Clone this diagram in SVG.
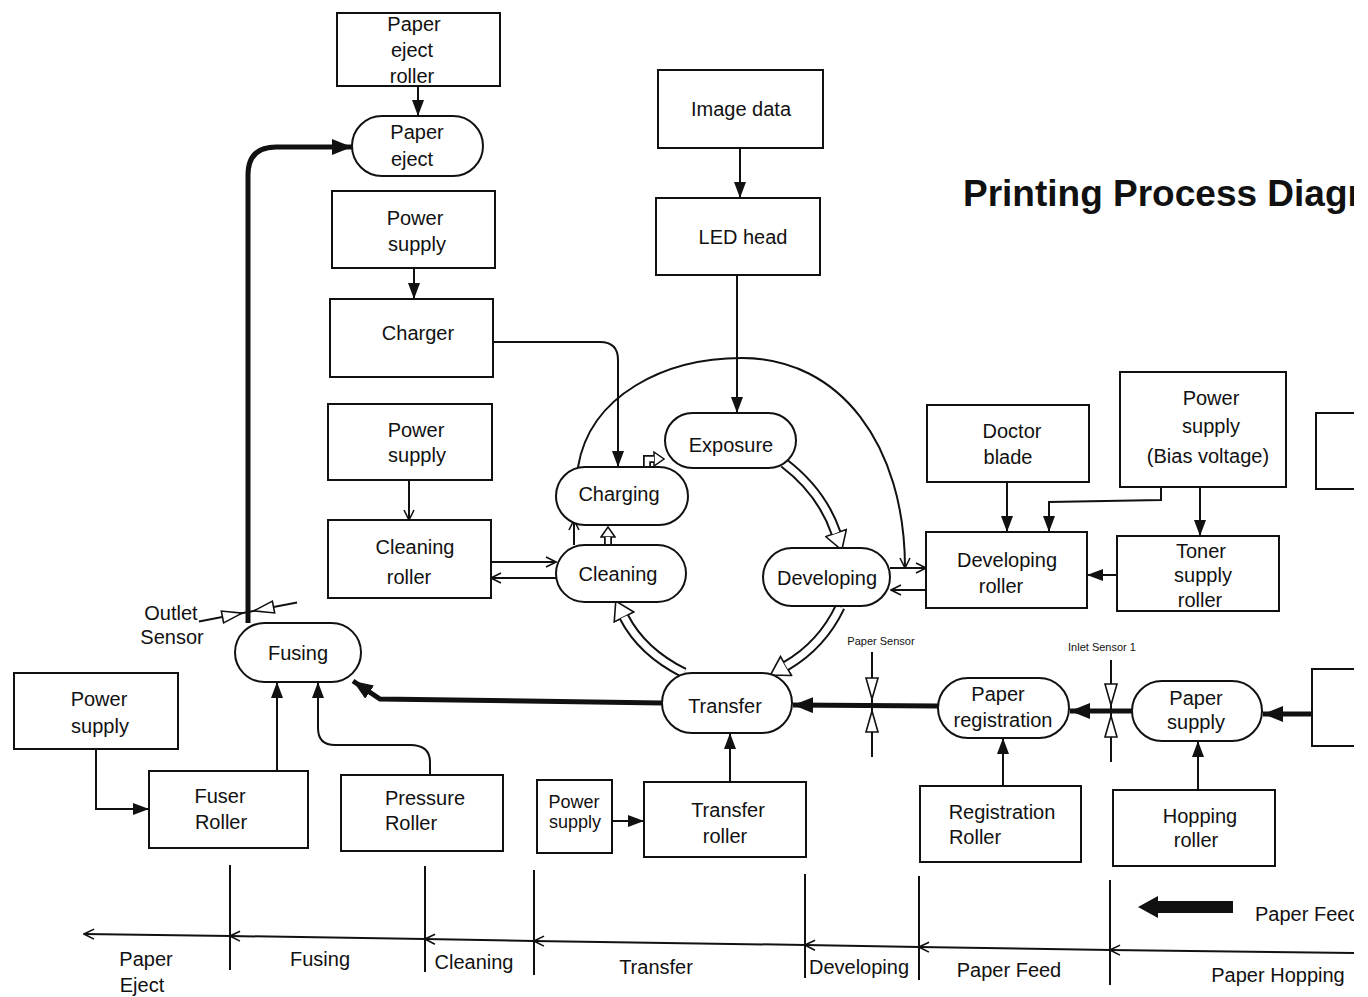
<svg xmlns="http://www.w3.org/2000/svg" width="1368" height="997" viewBox="0 0 1368 997">
<style>
.b{fill:#fff;stroke:#111;stroke-width:2}
.t{font-family:"Liberation Sans",Arial,sans-serif;font-size:20px;fill:#111;text-anchor:middle}
.ts{font-family:"Liberation Sans",Arial,sans-serif;font-size:18px;fill:#111;text-anchor:middle}
.s{font-family:"Liberation Sans",Arial,sans-serif;font-size:11px;fill:#111;text-anchor:middle}
.l{fill:none;stroke:#111;stroke-width:2}
.k{fill:none;stroke:#111;stroke-width:5}
.hb{fill:none;stroke:#111;stroke-width:11}
.hw{fill:none;stroke:#fff;stroke-width:7}
.sb{fill:none;stroke:#111;stroke-width:8}
.sw{fill:none;stroke:#fff;stroke-width:4.5}
.ht{fill:#fff;stroke:#111;stroke-width:1.6}
</style>
<defs>
<marker id="fa" viewBox="0 0 16 12" refX="16" refY="6" markerWidth="16" markerHeight="12" markerUnits="userSpaceOnUse" orient="auto"><path d="M0,0 L16,6 L0,12 z" fill="#111"/></marker>
<marker id="fb" viewBox="0 0 20 16" refX="20" refY="8" markerWidth="20" markerHeight="16" markerUnits="userSpaceOnUse" orient="auto"><path d="M0,0 L20,8 L0,16 z" fill="#111"/></marker>
<marker id="oa" viewBox="0 0 12 12" refX="11" refY="6" markerWidth="12" markerHeight="12" markerUnits="userSpaceOnUse" orient="auto"><path d="M1,1 L11,6 L1,11" fill="none" stroke="#111" stroke-width="1.6"/></marker>
<marker id="hh" viewBox="0 0 20 24" refX="1" refY="12" markerWidth="20" markerHeight="24" markerUnits="userSpaceOnUse" orient="auto"><path d="M1,1 L19,12 L1,23 z" fill="#fff" stroke="#111" stroke-width="1.6"/></marker>
<marker id="hs" viewBox="0 0 12 16" refX="1" refY="8" markerWidth="12" markerHeight="16" markerUnits="userSpaceOnUse" orient="auto"><path d="M1,1 L11,8 L1,15 z" fill="#fff" stroke="#111" stroke-width="1.5"/></marker>
<clipPath id="cp"><rect x="0" y="0" width="1354" height="997"/></clipPath>
</defs>
<rect width="1368" height="997" fill="#fff"/>
<g clip-path="url(#cp)">
<g id="connectors">
<path class="k" d="M248 623 L248 175 Q248 147 276 147 L352 147" marker-end="url(#fb)"/>
<path class="k" d="M662 703 L380 699 L353 681" marker-end="url(#fb)"/>
<path class="k" d="M938 706 L793 705" marker-end="url(#fb)"/>
<path class="k" d="M1132 711 L1070 711" marker-end="url(#fb)"/>
<path class="k" d="M1312 714 L1263 714" marker-end="url(#fb)"/>
<path class="l" d="M418 86 L418 116" marker-end="url(#fa)"/>
<path class="l" d="M414 268 L414 299" marker-end="url(#fa)"/>
<path class="l" d="M493 342 L600 342 Q618 342 618 360 L618 467" marker-end="url(#fa)"/>
<path class="l" d="M740 148 L740 198" marker-end="url(#fa)"/>
<path class="l" d="M737 275 L737 413" marker-end="url(#fa)"/>
<path class="l" d="M409 480 L409 520" marker-end="url(#oa)"/>
<path class="l" d="M491 562 L556 562" marker-end="url(#oa)"/>
<path class="l" d="M556 578 L491 578" marker-end="url(#oa)"/>
<path class="l" d="M574 545 L574 520" marker-end="url(#oa)"/>
<path class="l" d="M578 467 C590 395 665 358 742 358 C840 358 905 445 905 568" marker-end="url(#oa)"/>
<path class="l" d="M890 568 L926 568" marker-end="url(#oa)"/>
<path class="l" d="M926 590 L891 590" marker-end="url(#oa)"/>
<path class="l" d="M1007 482 L1007 532" marker-end="url(#fa)"/>
<path class="l" d="M1161 487 L1161 500 L1049 502 L1049 532" marker-end="url(#fa)"/>
<path class="l" d="M1200 487 L1200 536" marker-end="url(#fa)"/>
<path class="l" d="M1117 575 L1087 575" marker-end="url(#fa)"/>
<path class="l" d="M277 771 L277 682" marker-end="url(#fa)"/>
<path class="l" d="M430 775 L430 762 Q430 745 410 745 L335 745 Q318 745 318 728 L318 682" marker-end="url(#fa)"/>
<path class="l" d="M96 749 L96 809 L149 809" marker-end="url(#fa)"/>
<path class="l" d="M730 782 L730 733" marker-end="url(#fa)"/>
<path class="l" d="M612 821 L644 821" marker-end="url(#fa)"/>
<path class="l" d="M1003 786 L1003 738" marker-end="url(#fa)"/>
<path class="l" d="M1198 790 L1198 741" marker-end="url(#fa)"/>
<path class="hb" d="M784 463 Q822 492 836 533" marker-end="url(#hh)"/>
<path class="hw" d="M784 463 Q822 492 836 533"/>
<path class="hb" d="M840 607 Q822 645 786 666" marker-end="url(#hh)"/>
<path class="hw" d="M840 607 Q822 645 786 666"/>
<path class="hb" d="M684 673 Q642 652 624 617" marker-end="url(#hh)"/>
<path class="hw" d="M684 673 Q642 652 624 617"/>
<path class="sb" d="M608 545 L608 537" marker-end="url(#hs)"/>
<path class="sw" d="M608 546 L608 537"/>
<path class="sb" d="M647 468 L647 459 L654 459" marker-end="url(#hs)"/>
<path class="sw" d="M647 469 L647 459 L654 459"/>
<path class="l" d="M872 652 L872 757"/>
<polygon class="ht" points="866,678 878,678 872,699"/>
<polygon class="ht" points="866,732 878,732 872,711"/>
<path class="l" d="M1111 660 L1111 762"/>
<polygon class="ht" points="1105,684 1117,684 1111,705"/>
<polygon class="ht" points="1105,737 1117,737 1111,716"/>
<g transform="rotate(-11 248 612)">
<path class="l" d="M198 612 L298 612"/>
<polygon class="ht" points="222,606 222,618 242,612"/>
<polygon class="ht" points="274,606 274,618 254,612"/>
</g>
<path class="l" d="M230 865 L230 970 M425 866 L425 972 M534 870 L534 975 M805 874 L805 978 M919 876 L919 980 M1110 880 L1110 985"/>
<path class="l" d="M1360 953 L1110 950" marker-end="url(#oa)"/>
<path class="l" d="M1110 950 L919 947" marker-end="url(#oa)"/>
<path class="l" d="M919 947 L805 945" marker-end="url(#oa)"/>
<path class="l" d="M805 945 L534 941" marker-end="url(#oa)"/>
<path class="l" d="M534 941 L425 939" marker-end="url(#oa)"/>
<path class="l" d="M425 939 L230 936" marker-end="url(#oa)"/>
<path class="l" d="M230 936 L84 934" marker-end="url(#oa)"/>
<polygon points="1138,907 1158,896 1158,901 1233,901 1233,913 1158,913 1158,918" fill="#111"/>
</g>
<g id="n-paper-eject-roller"><rect class="b" x="337" y="13" width="163" height="73"/><text class="t" x="414" y="31">Paper</text><text class="t" x="412" y="57">eject</text><text class="t" x="412" y="83">roller</text></g>
<g id="n-paper-eject"><rect class="b" x="352" y="116" width="131" height="60" rx="30"/><text class="t" x="417" y="139">Paper</text><text class="t" x="412" y="166">eject</text></g>
<g id="n-power1"><rect class="b" x="332" y="191" width="163" height="77"/><text class="t" x="415" y="225">Power</text><text class="t" x="417" y="251">supply</text></g>
<g id="n-charger"><rect class="b" x="330" y="299" width="163" height="78"/><text class="t" x="418" y="340">Charger</text></g>
<g id="n-power2"><rect class="b" x="328" y="404" width="164" height="76"/><text class="t" x="416" y="437">Power</text><text class="t" x="417" y="462">supply</text></g>
<g id="n-cleaning-roller"><rect class="b" x="328" y="520" width="163" height="78"/><text class="t" x="415" y="554">Cleaning</text><text class="t" x="409" y="584">roller</text></g>
<g id="n-image-data"><rect class="b" x="658" y="70" width="165" height="78"/><text class="t" x="741" y="116">Image data</text></g>
<g id="n-led-head"><rect class="b" x="656" y="198" width="164" height="77"/><text class="t" x="743" y="244">LED head</text></g>
<g id="n-exposure"><rect class="b" x="665" y="413" width="131" height="55" rx="27.5"/><text class="t" x="731" y="452">Exposure</text></g>
<g id="n-charging"><rect class="b" x="556" y="467" width="132" height="58" rx="29"/><text class="t" x="619" y="501">Charging</text></g>
<g id="n-cleaning"><rect class="b" x="556" y="545" width="130" height="57" rx="28.5"/><text class="t" x="618" y="581">Cleaning</text></g>
<g id="n-developing"><rect class="b" x="763" y="548" width="127" height="58" rx="29"/><text class="t" x="827" y="585">Developing</text></g>
<g id="n-transfer"><rect class="b" x="662" y="673" width="130" height="60" rx="30"/><text class="t" x="725" y="713">Transfer</text></g>
<g id="n-doctor-blade"><rect class="b" x="927" y="405" width="162" height="77"/><text class="t" x="1012" y="438">Doctor</text><text class="t" x="1008" y="464">blade</text></g>
<g id="n-power-bias"><rect class="b" x="1120" y="372" width="166" height="115"/><text class="t" x="1211" y="405">Power</text><text class="t" x="1211" y="433">supply</text><text class="t" x="1208" y="463">(Bias voltage)</text></g>
<g id="n-partial1"><rect class="b" x="1316" y="413" width="60" height="76"/></g>
<g id="n-developing-roller"><rect class="b" x="926" y="532" width="161" height="76"/><text class="t" x="1007" y="567">Developing</text><text class="t" x="1001" y="593">roller</text></g>
<g id="n-toner-supply"><rect class="b" x="1117" y="536" width="162" height="75"/><text class="t" x="1201" y="558">Toner</text><text class="t" x="1203" y="582">supply</text><text class="t" x="1200" y="607">roller</text></g>
<g id="n-fusing"><rect class="b" x="235" y="623" width="126" height="59" rx="29.5"/><text class="t" x="298" y="660">Fusing</text></g>
<g id="n-outlet-sensor"><text class="t" x="171" y="620">Outlet</text><text class="t" x="172" y="644">Sensor</text></g>
<g id="n-power3"><rect class="b" x="14" y="673" width="164" height="76"/><text class="t" x="99" y="706">Power</text><text class="t" x="100" y="733">supply</text></g>
<g id="n-fuser-roller"><rect class="b" x="149" y="771" width="159" height="77"/><text class="t" x="220" y="803">Fuser</text><text class="t" x="221" y="829">Roller</text></g>
<g id="n-pressure-roller"><rect class="b" x="341" y="775" width="162" height="76"/><text class="t" x="425" y="805">Pressure</text><text class="t" x="411" y="830">Roller</text></g>
<g id="n-power4"><rect class="b" x="537" y="780" width="75" height="73"/><text class="ts" x="574" y="808">Power</text><text class="ts" x="575" y="828">supply</text></g>
<g id="n-transfer-roller"><rect class="b" x="644" y="782" width="162" height="75"/><text class="t" x="728" y="817">Transfer</text><text class="t" x="725" y="843">roller</text></g>
<g id="n-paper-registration"><rect class="b" x="938" y="678" width="131" height="60" rx="30"/><text class="t" x="998" y="701">Paper</text><text class="t" x="1003" y="727">registration</text></g>
<g id="n-paper-supply"><rect class="b" x="1132" y="681" width="130" height="60" rx="30"/><text class="t" x="1196" y="705">Paper</text><text class="t" x="1196" y="729">supply</text></g>
<g id="n-partial2"><rect class="b" x="1312" y="669" width="60" height="77"/></g>
<g id="n-registration-roller"><rect class="b" x="920" y="786" width="161" height="76"/><text class="t" x="1002" y="819">Registration</text><text class="t" x="975" y="844">Roller</text></g>
<g id="n-hopping-roller"><rect class="b" x="1113" y="790" width="162" height="76"/><text class="t" x="1200" y="823">Hopping</text><text class="t" x="1196" y="847">roller</text></g>
<g id="labels">
<text class="s" x="881" y="645">Paper Sensor</text>
<text class="s" x="1102" y="651">Inlet Sensor  1</text>
<text x="963" y="206" font-family="Liberation Sans,Arial,sans-serif" font-size="37" font-weight="bold" fill="#111">Printing Process Diagram</text>
<text x="1255" y="921" font-family="Liberation Sans,Arial,sans-serif" font-size="20" fill="#111">Paper Feed</text>
<text class="t" x="146" y="966">Paper</text><text class="t" x="142" y="992">Eject</text>
<text class="t" x="320" y="966">Fusing</text>
<text class="t" x="474" y="969">Cleaning</text>
<text class="t" x="656" y="974">Transfer</text>
<text class="t" x="859" y="974">Developing</text>
<text class="t" x="1009" y="977">Paper Feed</text>
<text class="t" x="1278" y="982">Paper Hopping</text>
</g>
</g>
</svg>
